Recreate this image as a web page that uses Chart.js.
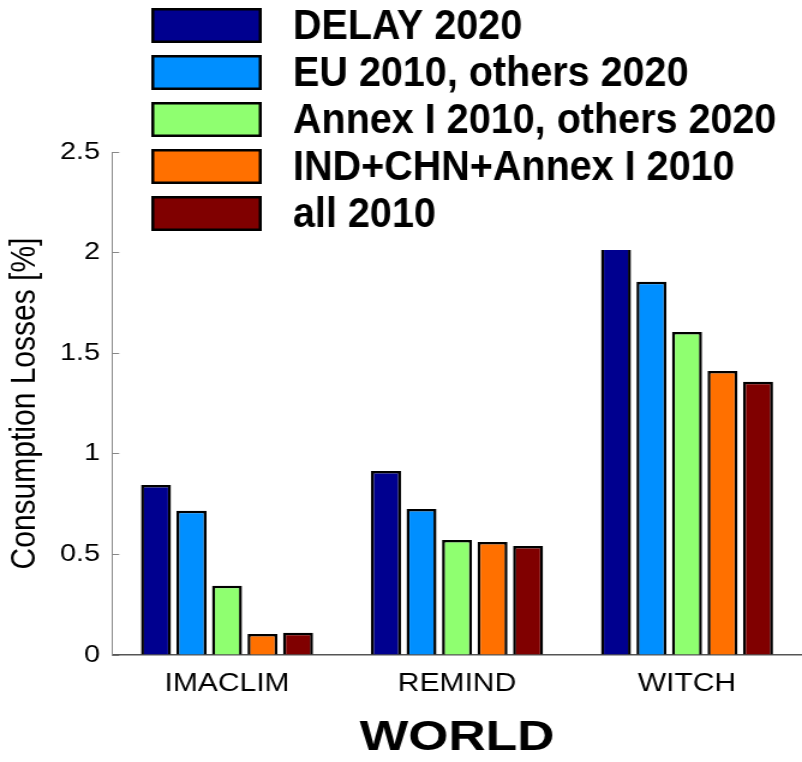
<!DOCTYPE html>
<html>
<head>
<meta charset="utf-8">
<script src="https://cdn.jsdelivr.net/npm/chart.js@4.4.0/dist/chart.umd.min.js"></script>
<style>
  html, body { margin: 0; padding: 0; background: #fff; }
</style>
</head>
<body>
<canvas id="grafico" width="668" height="762" style="display:block;width:802px;height:762px"></canvas>
<script>
// valores (WITCH DELAY queda tapado por la leyenda, estimado)
const modelos = ["IMACLIM", "REMIND", "WITCH"];
const delay2020 = [0.845, 0.915, 2.1];
const eu2010 = [0.717, 0.726, 1.855];
const annexI2010 = [0.344, 0.572, 1.605];
const indChnAnnex2010 = [0.104, 0.562, 1.412];
const all2010 = [0.111, 0.542, 1.358];

const nombresSerie = [
  "DELAY 2020",
  "EU 2010, others 2020",
  "Annex I 2010, others 2020",
  "IND+CHN+Annex I 2010",
  "all 2010"
];
const coloresSerie = ["#00008f", "#008fff", "#8fff70", "#ff7000", "#800000"];
const ticksY = ["0", "0.5", "1", "1.5", "2", "2.5"];

const fuente = "'Liberation Sans', Arial, sans-serif";

// la figura original viene estirada en horizontal (~1.2x):
// el canvas se dibuja a 668px de ancho y el style inline lo lleva a 802px
const leyenda = {
  id: "leyenda",
  afterDatasetsDraw(chart) {
    const ctx = chart.ctx;
    ctx.save();
    // la leyenda tiene fondo blanco y tapa la parte alta de las barras
    ctx.fillStyle = "#fff";
    ctx.fillRect(116, 0, 546, 250);
    chart.data.datasets.forEach((ds, i) => {
      const y = 8 + i * 47;
      ctx.fillStyle = ds.backgroundColor;
      ctx.fillRect(126, y, 92, 35);
      ctx.lineWidth = 2.5;
      ctx.strokeStyle = "#000";
      ctx.strokeRect(127.25, y + 1.25, 89.5, 32.5);
      ctx.save();
      ctx.translate(244, y + 31);
      ctx.scale(0.784, 1);
      ctx.font = "bold 42px " + fuente;
      ctx.fillStyle = "#000";
      ctx.textBaseline = "alphabetic";
      ctx.fillText(ds.label, 0, 0);
      ctx.restore();
    });
    ctx.restore();
  }
};

const series = [delay2020, eu2010, annexI2010, indChnAnnex2010, all2010];

new Chart(document.getElementById("grafico"), {
  type: "bar",
  data: {
    labels: modelos,
    datasets: series.map((valores, i) => ({
      label: nombresSerie[i],
      data: valores,
      backgroundColor: coloresSerie[i]
    }))
  },
  options: {
    responsive: false,
    animation: false,
    layout: { padding: { top: 152, right: 0, left: 0, bottom: 0 } },
    plugins: {
      legend: { display: false },
      tooltip: { enabled: false }
    },
    datasets: {
      bar: {
        categoryPercentage: 0.772,
        barPercentage: 0.845,
        borderWidth: 2.5,
        borderColor: "#000",
        borderSkipped: "start"
      }
    },
    scales: {
      x: {
        grid: { display: false, drawTicks: false },
        border: { color: "#555", width: 1.5 },
        ticks: { color: "#000", font: { size: 25, family: fuente }, padding: 14 },
        title: {
          display: true,
          text: "WORLD",
          color: "#000",
          font: { size: 43, weight: "bold", family: fuente, lineHeight: 1.1 },
          padding: 0
        },
        afterFit: s => { s.height = 107; }
      },
      y: {
        min: 0,
        max: 2.5,
        ticks: {
          stepSize: 0.5,
          callback: (v, i) => ticksY[i],
          color: "#000",
          font: { size: 24, family: fuente },
          padding: 16
        },
        grid: { drawOnChartArea: false, tickLength: -6, color: "#888" },
        border: { color: "#888" },
        title: {
          display: true,
          text: "Consumption Losses [%]",
          color: "#000",
          font: { size: 30, family: fuente },
          padding: { top: 3, bottom: 0 }
        },
        afterFit: s => { s.width = 93.3; }
      }
    }
  },
  plugins: [leyenda]
});
</script>
</body>
</html>
